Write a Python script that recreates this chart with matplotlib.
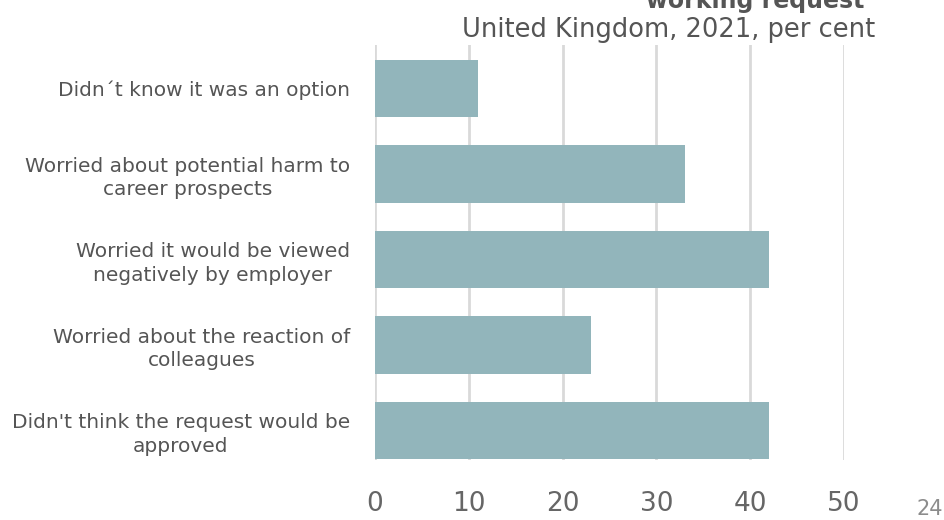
import matplotlib.pyplot as plt

categories = [
    "Didn\u00b4t know it was an option",
    "Worried about potential harm to\ncareer prospects",
    "Worried it would be viewed\nnegatively by employer",
    "Worried about the reaction of\ncolleagues",
    "Didn't think the request would be\napproved",
]
values = [11, 33, 42, 23, 42]
x_ticks = [0, 10, 20, 30, 40, 50]

BAR_COLOR = "#92b5bb"
TEXT_COLOR = "#555555"
GRID_COLOR = "#d9d9d9"

plt.rcParams["font.family"] = ["DejaVu Sans"]

fig = plt.figure(figsize=(9.45, 5.2), dpi=100)
ax = fig.add_axes([0.3968, 0.1154, 0.4963, 0.7981])

ax.barh(range(len(values)), values, height=0.67, color=BAR_COLOR, zorder=2)

ax.set_xlim(0, 50)
ax.set_ylim(4.345, -0.509)
ax.set_xticks(x_ticks)
ax.set_xticklabels([str(t) for t in x_ticks], fontsize=19, color="#666666")
ax.set_yticks(range(len(categories)))
ax.set_yticklabels(categories, fontsize=14.5, color=TEXT_COLOR, linespacing=1.3,
                   multialignment="center")
ax.tick_params(axis="x", length=0, pad=22)
ax.tick_params(axis="y", length=0, pad=18)
ax.grid(axis="x", color=GRID_COLOR, linewidth=2, zorder=0)
for spine in ax.spines.values():
    spine.set_visible(False)

fig.text(0.915, 0.985, "working request", ha="right", va="baseline",
         fontsize=17, fontweight="bold", color=TEXT_COLOR)
fig.text(0.926, 0.928, "United Kingdom, 2021, per cent", ha="right", va="baseline",
         fontsize=18.5, color=TEXT_COLOR)
fig.text(0.998, 0.002, "24", ha="right", va="bottom", fontsize=15, color="#8c8c8c")

fig.savefig("out.png", dpi=100)
